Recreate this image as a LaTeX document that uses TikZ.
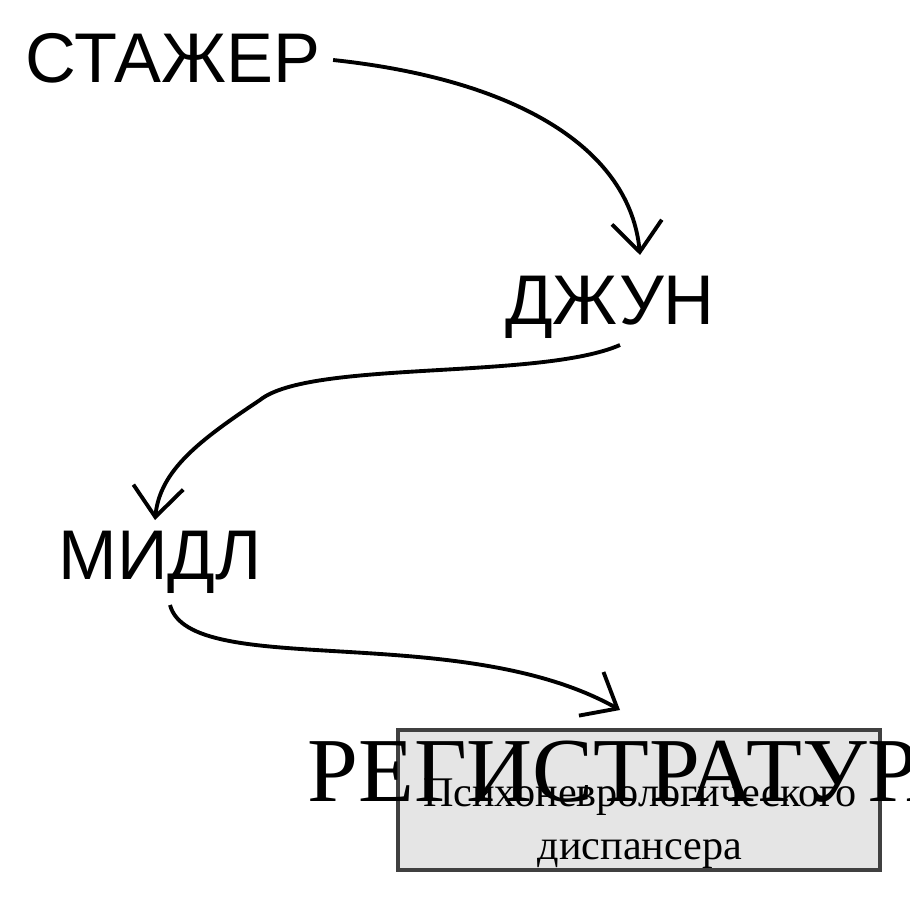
\documentclass[tikz,border=0pt]{standalone}
\usepackage{fontspec}
\setmainfont{Liberation Sans}
\newfontfamily\signfont{Liberation Serif}
\usetikzlibrary{arrows.meta}
\usetikzlibrary{positioning}
\usetikzlibrary{calc}

\tikzset{
  level/.style={font=\fontsize{20}{24}\selectfont, inner sep=0pt},
  promo/.style={line width=1.1pt, -{Straight Barb[length=3mm,width=5mm,line width=1.1pt]}},
  sign/.style={draw=black!75, line width=1pt, fill=black!10, minimum width=4.82cm, minimum height=1.4cm, inner sep=0pt}
}

\begin{document}
\begin{tikzpicture}[x=0.01cm,y=-0.01cm]

  \useasboundingbox (0,0) rectangle (910,910);

  \node[level] (stazher) at (173,58) {СТАЖЕР};
  \node[level] (dzhun) at (610,307) {ДЖУН};
  \node[level] (midl) at (160,562) {МИДЛ};

  \node[sign] (reg) at (639,800) {};
  \node[font=\signfont\fontsize{26}{30}\selectfont, inner sep=0pt] (regtitle) at (640,772) {РЕГИСТРАТУРА};
  \node[font=\signfont\fontsize{12}{14}\selectfont, align=center, inner sep=0pt] (regsub) at (640,824) {Психоневрологического\\[1pt]диспансера};

  \coordinate (dzhunin) at (640,255);
  \coordinate (dzhunout) at (620,345);
  \coordinate (midlin) at (155,520);
  \coordinate (midlout) at (170,605);
  \coordinate (regin) at (620,710);

  \draw[promo] ($(stazher.east)+(12,2)$) .. controls (520,80) and (630,150) .. (dzhunin);
  \draw[promo] (dzhunout) .. controls (540,380) and (310,360) .. (260,400)
                          .. controls (200,440) and (160,470) .. (midlin);
  \draw[promo] (midlout) .. controls (190,680) and (460,620) .. (regin);

\end{tikzpicture}
\end{document}
